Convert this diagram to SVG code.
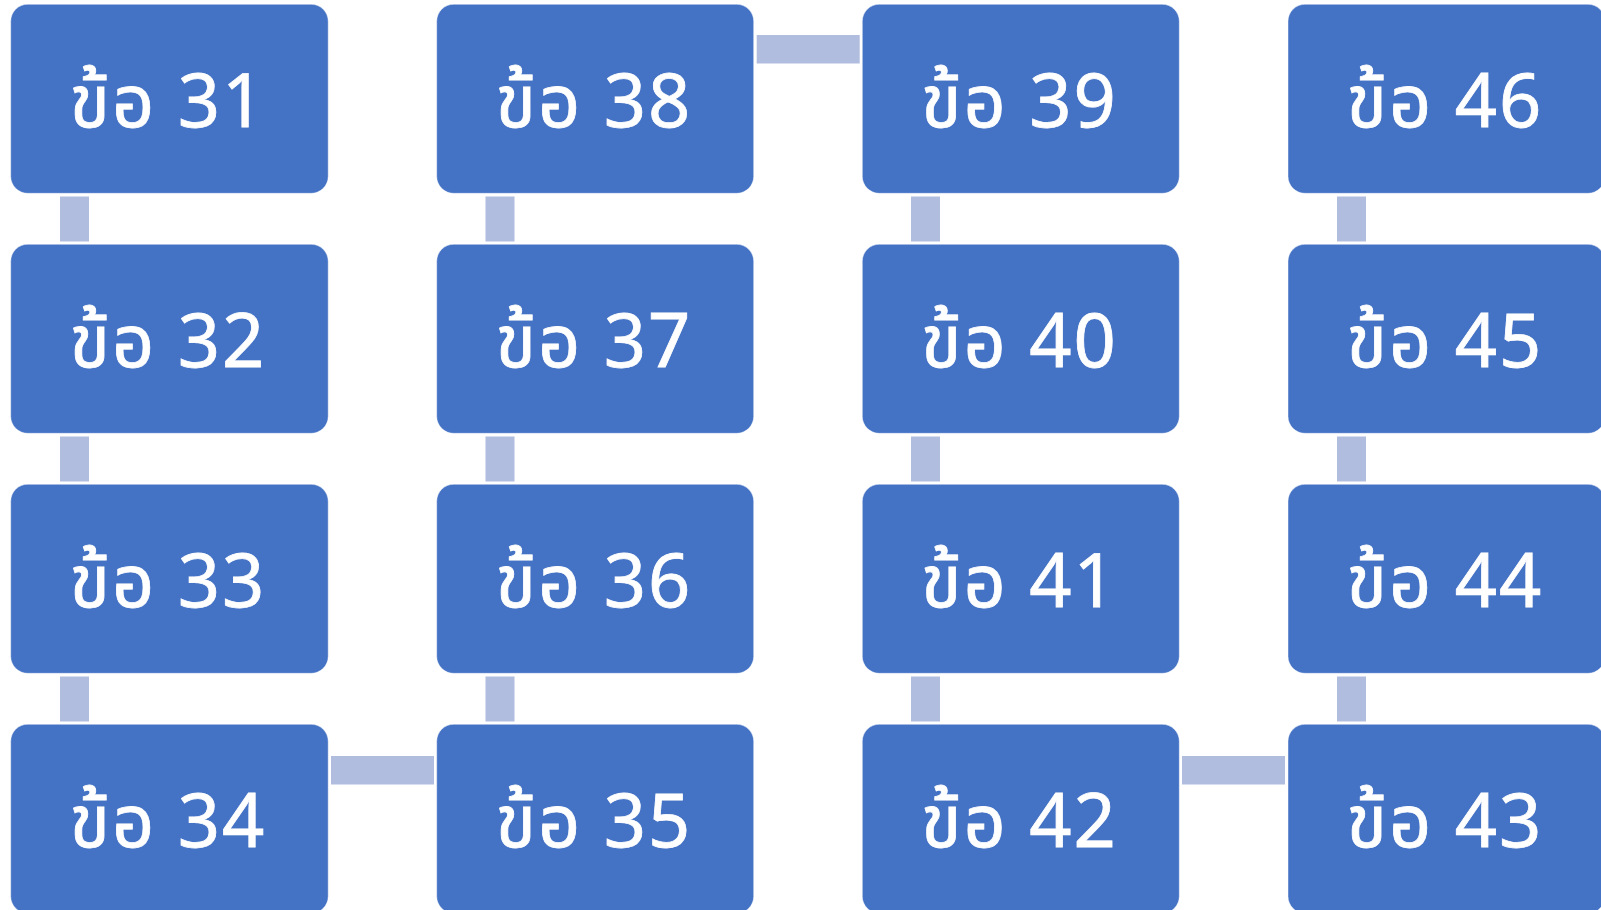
<svg xmlns="http://www.w3.org/2000/svg" width="1601" height="910" viewBox="0 0 1601 910">
<style>
.box{fill:#4472C4;stroke:#ffffff;stroke-opacity:0.45;stroke-width:1}
.c{fill:#B0BDDF}
.t{fill:#ffffff;stroke:#ffffff;stroke-width:0.8;font-family:"Noto Sans","Noto Sans Thai","DejaVu Sans",sans-serif;font-size:74px;letter-spacing:2px;text-anchor:middle}
</style>
<rect width="1601" height="910" fill="#ffffff"/>
<g id="connectors">
<rect class="c" x="60" y="196.5" width="29" height="45"/>
<rect class="c" x="60" y="436.5" width="29" height="45"/>
<rect class="c" x="60" y="676.5" width="29" height="45"/>
<rect class="c" x="485.5" y="196.5" width="29" height="45"/>
<rect class="c" x="485.5" y="436.5" width="29" height="45"/>
<rect class="c" x="485.5" y="676.5" width="29" height="45"/>
<rect class="c" x="911" y="196.5" width="29" height="45"/>
<rect class="c" x="911" y="436.5" width="29" height="45"/>
<rect class="c" x="911" y="676.5" width="29" height="45"/>
<rect class="c" x="1337" y="196.5" width="29" height="45"/>
<rect class="c" x="1337" y="436.5" width="29" height="45"/>
<rect class="c" x="1337" y="676.5" width="29" height="45"/>
<rect class="c" x="331" y="756" width="103" height="28.5"/>
<rect class="c" x="756.7" y="35" width="103" height="28.5"/>
<rect class="c" x="1182" y="756" width="103" height="28.5"/>
</g>
<g id="n31"><rect class="box" x="10.7" y="4.3" width="317.5" height="189" rx="17"/><text class="t" x="168" y="127">ข้อ 31</text></g>
<g id="n32"><rect class="box" x="10.7" y="244.3" width="317.5" height="189" rx="17"/><text class="t" x="168" y="367">ข้อ 32</text></g>
<g id="n33"><rect class="box" x="10.7" y="484.3" width="317.5" height="189" rx="17"/><text class="t" x="168" y="607">ข้อ 33</text></g>
<g id="n34"><rect class="box" x="10.7" y="724.3" width="317.5" height="189" rx="17"/><text class="t" x="168" y="847">ข้อ 34</text></g>
<g id="n35"><rect class="box" x="436.7" y="724.3" width="317" height="189" rx="17"/><text class="t" x="594" y="847">ข้อ 35</text></g>
<g id="n36"><rect class="box" x="436.7" y="484.3" width="317" height="189" rx="17"/><text class="t" x="594" y="607">ข้อ 36</text></g>
<g id="n37"><rect class="box" x="436.7" y="244.3" width="317" height="189" rx="17"/><text class="t" x="594" y="367">ข้อ 37</text></g>
<g id="n38"><rect class="box" x="436.7" y="4.3" width="317" height="189" rx="17"/><text class="t" x="594" y="127">ข้อ 38</text></g>
<g id="n39"><rect class="box" x="862.3" y="4.3" width="317" height="189" rx="17"/><text class="t" x="1019.5" y="127">ข้อ 39</text></g>
<g id="n40"><rect class="box" x="862.3" y="244.3" width="317" height="189" rx="17"/><text class="t" x="1019.5" y="367">ข้อ 40</text></g>
<g id="n41"><rect class="box" x="862.3" y="484.3" width="317" height="189" rx="17"/><text class="t" x="1019.5" y="607">ข้อ 41</text></g>
<g id="n42"><rect class="box" x="862.3" y="724.3" width="317" height="189" rx="17"/><text class="t" x="1019.5" y="847">ข้อ 42</text></g>
<g id="n43"><rect class="box" x="1288" y="724.3" width="317" height="189" rx="17"/><text class="t" x="1445" y="847">ข้อ 43</text></g>
<g id="n44"><rect class="box" x="1288" y="484.3" width="317" height="189" rx="17"/><text class="t" x="1445" y="607">ข้อ 44</text></g>
<g id="n45"><rect class="box" x="1288" y="244.3" width="317" height="189" rx="17"/><text class="t" x="1445" y="367">ข้อ 45</text></g>
<g id="n46"><rect class="box" x="1288" y="4.3" width="317" height="189" rx="17"/><text class="t" x="1445" y="127">ข้อ 46</text></g>
</svg>
